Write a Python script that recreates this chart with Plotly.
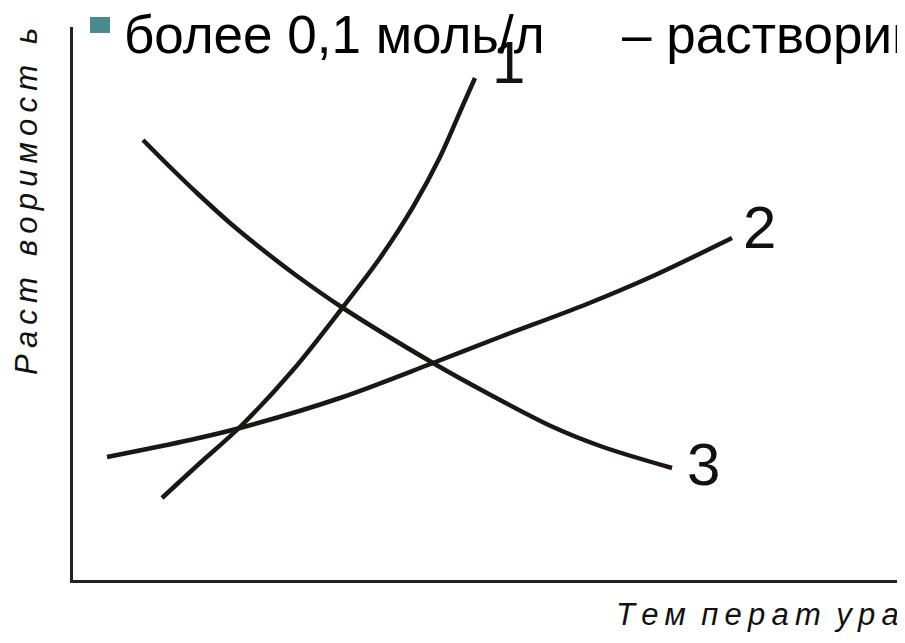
import plotly.graph_objects as go

# values, in arbitrary units (origin at the axes corner)
curve1_x = [89, 127, 167, 220, 270, 307, 340, 367, 390, 402]
curve1_y = [82, 117, 153, 210, 273, 322, 373, 423, 475, 502]

curve2_x = [34, 117, 167, 267, 360, 427, 514, 580, 659]
curve2_y = [123, 140, 152, 182, 217, 243, 276, 304, 342]

curve3_x = [70, 97, 124, 157, 190, 224, 270, 360, 414, 480, 530, 599]
curve3_y = [440, 413, 387, 357, 330, 304, 272, 217, 187, 153, 133, 112]

curve_names = ["1", "2", "3"]
name_pos_x = [435, 686, 630]
name_pos_y = [518, 353, 116]

title_left = "более 0,1 моль/л"
title_right = "– растворим"
x_label = "Тем перат ура"
y_label = "Раст воримост ь"

TS = "\u2009"  # thin space used to spread the letters
GAP = "\u2002"  # en space for the word gaps


def spread(s, around_gaps=True):
    if around_gaps:
        return TS.join(s)
    return GAP.join(TS.join(w) for w in s.split(" "))


line_color = "#1c1717"
sans = "Liberation Sans, Arial"

fig = go.Figure()
for xs, ys in [(curve1_x, curve1_y), (curve2_x, curve2_y), (curve3_x, curve3_y)]:
    fig.add_trace(go.Scatter(
        x=xs, y=ys, mode="lines",
        line=dict(color=line_color, width=4.5, shape="spline", smoothing=0.9),
        showlegend=False, hoverinfo="skip",
    ))

for name, nx, ny in zip(curve_names, name_pos_x, name_pos_y):
    fig.add_annotation(x=nx, y=ny, text=name, showarrow=False,
                       xanchor="center", yanchor="middle",
                       font=dict(family=sans, size=60, color="#111111"))

# slide heading (cut off on the right like the source)
fig.add_annotation(x=122 - 73, y=580 - 34, text=title_left, showarrow=False,
                   xanchor="left", yanchor="middle",
                   font=dict(family=sans, size=53, color="#000000"))
fig.add_annotation(x=620 - 73, y=580 - 34, text=title_right, showarrow=False,
                   xanchor="left", yanchor="middle",
                   font=dict(family=sans, size=53, color="#000000"))
fig.add_shape(type="rect", xref="paper", yref="paper",
              x0=(90 - 73) / 832, x1=(110 - 73) / 832,
              y0=(580 - 33) / 553, y1=(580 - 17) / 553,
              fillcolor="#4a8a8e", line=dict(width=0))

# axis titles
fig.add_annotation(xref="paper", yref="paper", x=(901 - 73) / 832, y=(580 - 614) / 553,
                   text=spread(x_label, around_gaps=False), showarrow=False,
                   xanchor="right", yanchor="middle",
                   font=dict(family=sans, size=31, color="#111111", style="italic"))
fig.add_annotation(xref="paper", yref="paper", x=(26 - 73) / 832, y=(580 - 202) / 553,
                   text=spread(y_label), showarrow=False,
                   textangle=-90, xanchor="center", yanchor="middle",
                   font=dict(family=sans, size=31, color="#111111", style="italic"))

fig.update_xaxes(range=[0, 832], showline=True, linewidth=3, linecolor="#222222",
                 showgrid=False, zeroline=False, showticklabels=False, ticks="")
fig.update_yaxes(range=[0, 553], showline=True, linewidth=3, linecolor="#222222",
                 showgrid=False, zeroline=False, showticklabels=False, ticks="")

# the page body adds an 8px margin, so the figure is 8px smaller than the window
fig.update_layout(
    width=897, height=635,
    margin=dict(l=65, r=0, t=19, b=63),
    plot_bgcolor="white", paper_bgcolor="white",
)

fig.write_html("out.html")
